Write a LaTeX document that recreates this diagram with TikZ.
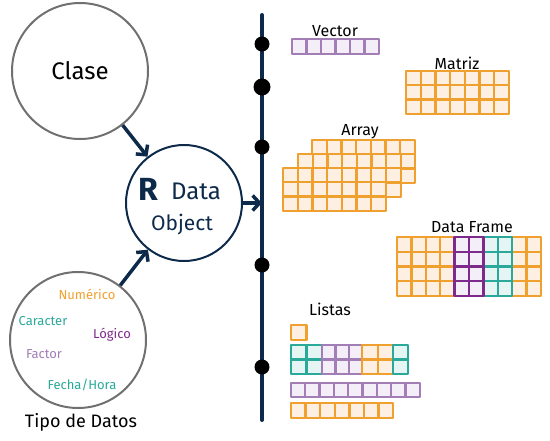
\documentclass[tikz,border=0pt]{standalone}
\usepackage{fontspec}
\setmainfont{Fira Sans}
\usetikzlibrary{arrows.meta}
\definecolor{navy}{HTML}{0E2A4A}
\definecolor{corg}{HTML}{F0A02E}
\definecolor{orgfill}{HTML}{FDF0E2}
\definecolor{cpur}{HTML}{A27DB6}
\definecolor{purfill}{HTML}{F3EEF7}
\definecolor{cdpur}{HTML}{7E2A8C}
\definecolor{cteal}{HTML}{2AA89A}
\definecolor{tealfill}{HTML}{E5F5F3}
\definecolor{ring}{HTML}{707070}
\newcommand\myfs[1]{\fontsize{#1}{#1}\selectfont}
\newcommand\cells[7]{%
  \foreach \i in {1,...,#3}{\foreach \j in {1,...,#4}{%
    \draw[#7] ({#1+(\i-1)*#5},{#2+(\j-1)*#6}) rectangle ++(#5,#6);}}}
\tikzset{
  cellbase/.style={line width=2.3pt, line join=round},
  ocell/.style={cellbase, draw=corg, fill=orgfill},
  pcell/.style={cellbase, draw=cpur, fill=purfill},
  dpcell/.style={cellbase, draw=cdpur, fill=purfill},
  tcell/.style={cellbase, draw=cteal, fill=tealfill},
  ringc/.style={circle, draw=ring, line width=2pt, minimum size=136pt, inner sep=0pt},
  arr/.style={draw=navy, line width=3.5pt, -{Straight Barb[length=7pt,width=15pt]}},
  dot/.style={circle, fill=black, minimum size=15pt, inner sep=0pt},
  lab/.style={font=\myfs{16}, text=black},
  dtype/.style={font=\myfs{13}},
}
\begin{document}
\begin{tikzpicture}[x=1pt,y=-1pt]
\useasboundingbox (0,0) rectangle (550,440);
% circles
\node[ringc, font=\myfs{24}] (clase) at (80,71) {Clase};
\node[circle, draw=navy, line width=2pt, minimum size=116pt, inner sep=0pt] (rdo) at (184,203) {};
\node[font=\bfseries\myfs{32}, text=navy] (rR) at (148,189) {R};
\node[font=\myfs{24}, text=navy] (rData) at (196,191) {Data};
\node[font=\myfs{21}, text=navy] (rObj) at (182,225) {Object};
\node[ringc] (tipo) at (78,340) {};
\node[dtype, text=corg] (tnum) at (87,294) {Numérico};
\node[dtype, text=cteal] (tcar) at (43,321) {Caracter};
\node[dtype, text=cdpur] (tlog) at (112,335) {Lógico};
\node[dtype, text=cpur] (tfac) at (44,354) {Factor};
\node[dtype, text=cteal] (tfec) at (82,385) {Fecha/Hora};
\node[font=\myfs{18}] (ltipo) at (81,422) {Tipo de Datos};
% timeline
\coordinate (ttop) at (262,15);
\coordinate (tbot) at (262,420);
\draw[navy, line width=4pt, line cap=round] (ttop) -- (tbot);
\node[dot] (d1) at (262,44) {};
\node[dot, minimum size=17pt] (d2) at (262,87) {};
\node[dot] (d3) at (262,147) {};
\node[dot] (d4) at (262,265) {};
\node[dot] (d5) at (262,367) {};
% arrows
\draw[arr] (clase) -- (rdo);
\draw[arr] (tipo) -- (rdo);
\draw[arr] (rdo.east) -- (rdo.east -| ttop);
% Vector
\node[lab] (lvec) at (335,31) {Vector};
\cells{292}{39}{6}{1}{14.5}{15}{pcell}
% Matriz
\node[lab] (lmat) at (457,63) {Matriz};
\cells{406}{71}{7}{3}{14.7}{14.3}{ocell}
% Array
\node[lab] (larr) at (360,132) {Array};
\cells{312}{140}{7}{3}{14.7}{14.3}{ocell}
\cells{298}{154}{7}{3}{14.7}{14.3}{ocell}
\cells{283}{168}{7}{3}{14.7}{14.3}{ocell}
% Data Frame
\node[lab] (ldf) at (472,227) {Data Frame};
\cells{397}{237}{4}{4}{14.4}{14.75}{ocell}
\cells{512.2}{237}{2}{4}{14.4}{14.75}{ocell}
\cells{483.4}{237}{2}{4}{14.4}{14.75}{tcell}
\cells{454.6}{237}{2}{4}{14.4}{14.75}{dpcell}
% Listas
\node[lab] (llis) at (330,309) {Listas};
\cells{291}{325}{1}{1}{15.5}{15}{ocell}
\cells{291}{345}{2}{2}{15.5}{14.5}{tcell}
\cells{322}{345}{3}{2}{13.4}{14.5}{pcell}
\cells{362.2}{345}{2}{2}{15.5}{14.5}{ocell}
\cells{393.2}{345}{1}{2}{15}{14.5}{tcell}
\cells{291}{383}{9}{1}{14.3}{14}{pcell}
\cells{291}{403}{7}{1}{14.6}{15}{ocell}
\end{tikzpicture}
\end{document}
